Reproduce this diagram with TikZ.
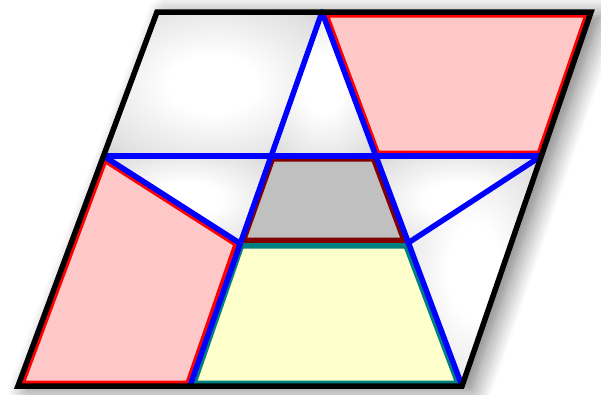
\documentclass[tikz,border=0pt]{standalone}
\usetikzlibrary{shadows.blur}
\pgfdeclareradialshading{glow}{\pgfpoint{0bp}{0bp}}{color(0bp)=(white); color(10bp)=(white); color(30bp)=(black!12); color(42bp)=(black!28); color(100bp)=(black!28)}
\definecolor{pinkfill}{RGB}{255,200,200}
\definecolor{grayfill}{RGB}{192,192,192}
\definecolor{yellowfill}{RGB}{255,255,204}
\definecolor{tealline}{RGB}{0,128,128}
\definecolor{maroonline}{RGB}{128,0,0}
\newcommand\insetregion[3]{%
  \begin{scope}
    \clip #1;
    \fill[#2] #1;
    \draw[#3, line width=11pt, line join=miter] #1;
  \end{scope}}
\begin{document}
\begin{tikzpicture}[x=1pt,y=-1pt,
  blueline/.style={blue, line width=5.5pt, line cap=round, line join=round},
  border/.style={black, line width=5.5pt, line join=miter}]
\useasboundingbox (0,0) rectangle (601,394);
\coordinate (A) at (157,12);
\coordinate (B) at (322,12);
\coordinate (C) at (591,12);
\coordinate (L) at (103.5,156);
\coordinate (P) at (270.5,156);
\coordinate (Q) at (375.5,156);
\coordinate (R) at (541.3,156);
\coordinate (G) at (239.5,243);
\coordinate (H) at (408,243);
\coordinate (D) at (18,386);
\coordinate (E) at (190,386);
\coordinate (F) at (462,386);
% drop shadow
\fill[white, blur shadow={shadow xshift=10pt, shadow yshift=-4pt, shadow blur radius=20pt, shadow blur steps=12, shadow opacity=55}]
  (A) -- (C) -- (F) -- (D) -- cycle;
% white glowing regions
\shade[shading=glow] (A) -- (B) -- (P) -- (L) -- cycle;
\shade[shading=glow] (B) -- (Q) -- (P) -- cycle;
\shade[shading=glow] (L) -- (P) -- (G) -- cycle;
\shade[shading=glow] (Q) -- (R) -- (H) -- cycle;
\shade[shading=glow] (R) -- (F) -- (H) -- cycle;
% coloured regions
\insetregion{(B) -- (C) -- (R) -- (Q) -- cycle}{pinkfill}{red}
\insetregion{(L) -- (G) -- (E) -- (D) -- cycle}{pinkfill}{red}
\insetregion{(P) -- (Q) -- (H) -- (G) -- cycle}{grayfill}{maroonline}
\insetregion{(G) -- (H) -- (F) -- (E) -- cycle}{yellowfill}{tealline}
% blue lines
\draw[blueline] (L) -- (R);
\draw[blueline] (B) -- (E);
\draw[blueline] (B) -- (F);
\draw[blueline] (L) -- (G);
\draw[blueline] (R) -- (H);
% outer border
\draw[border] (A) -- (C) -- (F) -- (D) -- cycle;
\end{tikzpicture}
\end{document}
